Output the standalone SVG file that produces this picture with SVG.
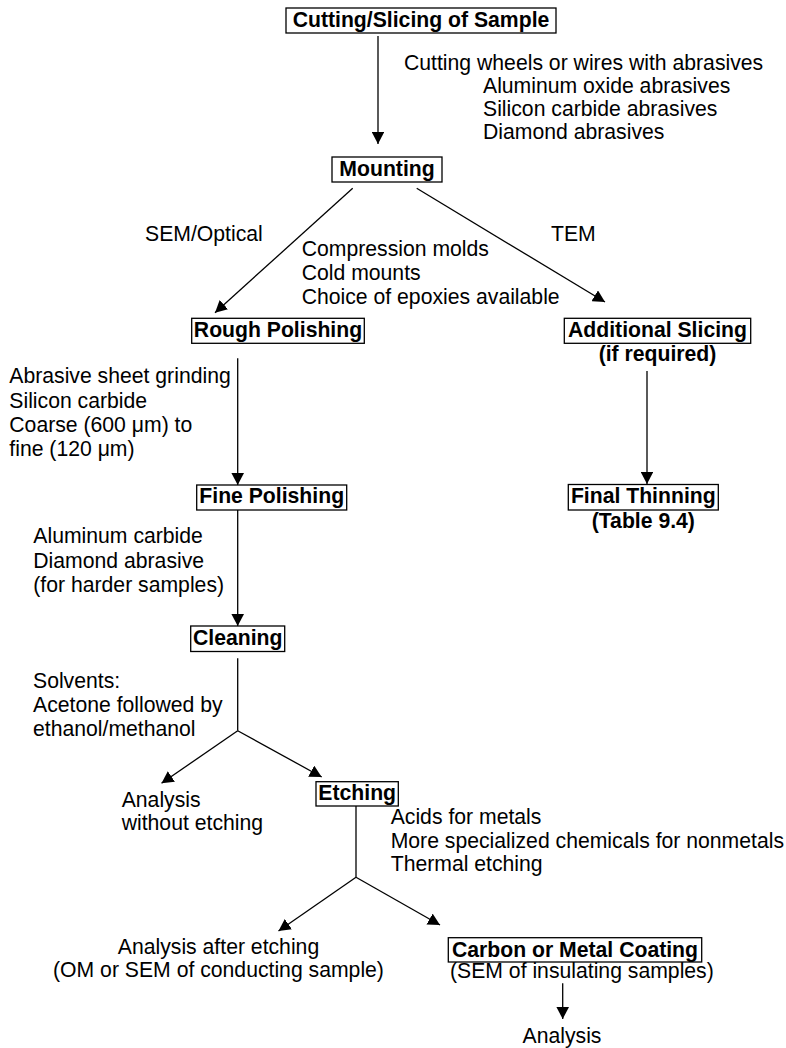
<svg xmlns="http://www.w3.org/2000/svg" width="786" height="1048" viewBox="0 0 786 1048">
<style>
.box{fill:#fff;stroke:#000;stroke-width:1.3}
.b{font-family:"Liberation Sans",Arial,Helvetica,sans-serif;font-size:21.2px;font-weight:bold;fill:#000;text-anchor:middle}
.t{font-family:"Liberation Sans",Arial,Helvetica,sans-serif;font-size:21.2px;fill:#000}
.c{text-anchor:middle}
.ln{fill:none;stroke:#000;stroke-width:1.3}
.ar{marker-end:url(#ah)}
</style>
<defs>
<marker id="ah" markerUnits="userSpaceOnUse" markerWidth="12" markerHeight="12.6" viewBox="0 0 12 12.6" refX="12" refY="6.3" orient="auto">
<path d="M0,0 L12,6.3 L0,12.6 z" fill="#000"/>
</marker>
</defs>
<rect width="786" height="1048" fill="#fff"/>

<g id="connectors">
<line class="ln ar" x1="378" y1="36" x2="378" y2="144"/>
<line class="ln ar" x1="352.7" y1="188.3" x2="215" y2="312.7"/>
<line class="ln ar" x1="416.7" y1="188.3" x2="605" y2="302"/>
<line class="ln ar" x1="647" y1="371" x2="647" y2="484"/>
<line class="ln ar" x1="237.7" y1="358.3" x2="237.7" y2="485"/>
<line class="ln ar" x1="237.7" y1="510" x2="237.7" y2="626"/>
<line class="ln" x1="237.7" y1="658.3" x2="237.7" y2="730.7"/>
<line class="ln ar" x1="237.7" y1="730.7" x2="161.5" y2="783.3"/>
<line class="ln ar" x1="237.7" y1="730.7" x2="321.7" y2="777"/>
<line class="ln" x1="356" y1="806" x2="356" y2="877.3"/>
<line class="ln ar" x1="356" y1="877.3" x2="278.5" y2="931"/>
<line class="ln ar" x1="356" y1="877.3" x2="440" y2="925"/>
<line class="ln ar" x1="562.7" y1="983.3" x2="562.7" y2="1019"/>
</g>

<g id="node-cutting">
<rect class="box" x="286" y="8" width="270" height="25"/>
<text class="b" x="421" y="26.5">Cutting/Slicing of Sample</text>
</g>
<g id="note-cutting" class="t">
<text x="404" y="70">Cutting wheels or wires with abrasives</text>
<text x="483" y="93">Aluminum oxide abrasives</text>
<text x="483" y="115.5">Silicon carbide abrasives</text>
<text x="483" y="138.5">Diamond abrasives</text>
</g>

<g id="node-mounting">
<rect class="box" x="332" y="157" width="110" height="25"/>
<text class="b" x="387" y="176">Mounting</text>
</g>
<g id="note-mounting" class="t">
<text x="145" y="241">SEM/Optical</text>
<text x="551" y="241">TEM</text>
<text x="301.7" y="256">Compression molds</text>
<text x="301.7" y="280">Cold mounts</text>
<text x="301.7" y="304">Choice of epoxies available</text>
</g>

<g id="node-rough">
<rect class="box" x="191.7" y="318.3" width="172.6" height="25"/>
<text class="b" x="278" y="336.7">Rough Polishing</text>
</g>
<g id="note-rough" class="t">
<text x="9.3" y="383.3">Abrasive sheet grinding</text>
<text x="9.3" y="407.5">Silicon carbide</text>
<text x="9.3" y="431.5">Coarse (600 μm) to</text>
<text x="9.3" y="455.5">fine (120 μm)</text>
</g>

<g id="node-additional">
<rect class="box" x="564.3" y="318.3" width="186.4" height="25"/>
<text class="b" x="657.5" y="336.7">Additional Slicing</text>
<text class="b" x="657.5" y="360.5">(if required)</text>
</g>

<g id="node-final">
<rect class="box" x="568.3" y="484.5" width="150" height="25.5"/>
<text class="b" x="643.3" y="503">Final Thinning</text>
<text class="b" x="643.3" y="527.5">(Table 9.4)</text>
</g>

<g id="node-fine">
<rect class="box" x="196.7" y="485" width="150" height="25"/>
<text class="b" x="271.7" y="502.8">Fine Polishing</text>
</g>
<g id="note-fine" class="t">
<text x="33.3" y="543.3">Aluminum carbide</text>
<text x="33.3" y="567.5">Diamond abrasive</text>
<text x="33.3" y="591.5">(for harder samples)</text>
</g>

<g id="node-cleaning">
<rect class="box" x="190.7" y="626" width="94" height="25.5"/>
<text class="b" x="237.7" y="644.5">Cleaning</text>
</g>
<g id="note-cleaning" class="t">
<text x="33" y="687.7">Solvents:</text>
<text x="33" y="711.7">Acetone followed by</text>
<text x="33" y="735.5">ethanol/methanol</text>
</g>

<g id="node-analysis-noetch" class="t">
<text x="121.7" y="806.7">Analysis</text>
<text x="121.7" y="830.3">without etching</text>
</g>

<g id="node-etching">
<rect class="box" x="316" y="781.7" width="82.3" height="24.3"/>
<text class="b" x="357.2" y="800">Etching</text>
</g>
<g id="note-etching" class="t">
<text x="390.7" y="823.5">Acids for metals</text>
<text x="390.7" y="847.5">More specialized chemicals for nonmetals</text>
<text x="390.7" y="871.3">Thermal etching</text>
</g>

<g id="node-analysis-etch" class="t c">
<text class="c" x="218.5" y="953.5">Analysis after etching</text>
<text class="c" x="218.5" y="977">(OM or SEM of conducting sample)</text>
</g>

<g id="node-coating">
<rect class="box" x="448.3" y="937.7" width="253.4" height="24.3"/>
<text class="b" x="575" y="956.5">Carbon or Metal Coating</text>
<text class="t" x="450" y="978.3">(SEM of insulating samples)</text>
</g>

<g id="node-analysis-final" class="t">
<text class="c" x="562" y="1043.3">Analysis</text>
</g>
</svg>
